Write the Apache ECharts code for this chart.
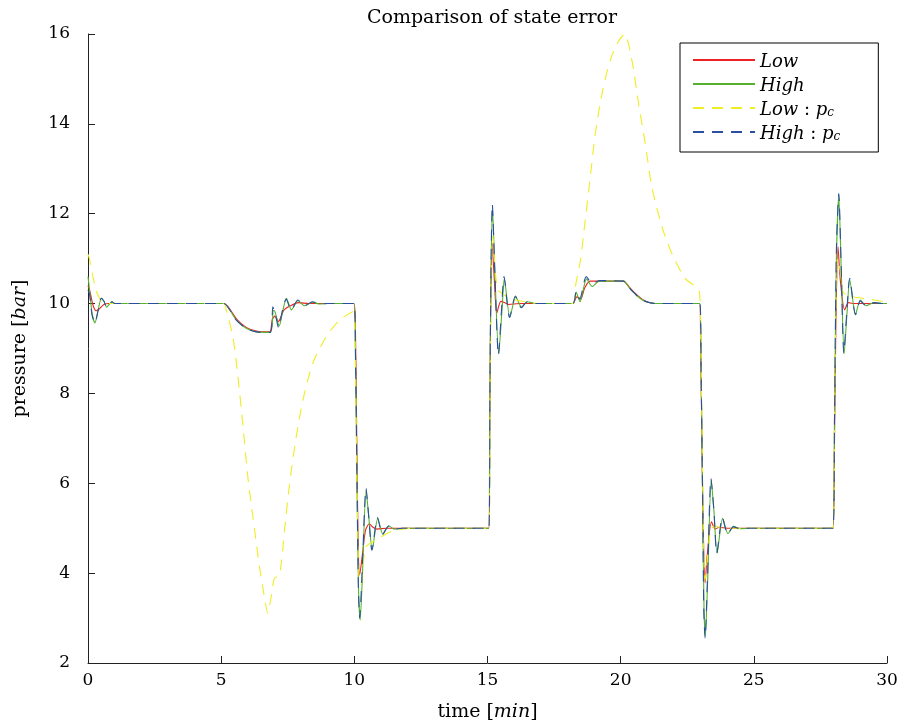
<!DOCTYPE html>
<html>
<head>
<meta charset="utf-8">
<script src="https://cdn.jsdelivr.net/npm/echarts@6/dist/echarts.min.js"></script>
<style>html,body{margin:0;padding:0;background:#fff}#c{width:902px;height:727px}</style>
</head>
<body>
<div id="c"></div>
<script>
const seriesNames = ['Low', 'High', 'Low : pc', 'High : pc'];
const xTicks = [0, 5, 10, 15, 20, 25, 30];
const yTicks = [2, 4, 6, 8, 10, 12, 14, 16];

const lowData = [
[0,10.4],[0.08,10.25],[0.18,9.98],[0.3,9.84],[0.42,9.88],[0.6,9.98],[0.8,10.0],
[5.1,10.0],[5.3,9.9],[5.57,9.66],[5.94,9.47],[6.32,9.39],[6.82,9.37],[6.92,9.65],[7.02,9.72],[7.15,9.6],[7.35,9.85],[7.6,9.95],[7.9,10.02],[8.3,10.0],
[9.98,10.0],[10.04,9.5],[10.1,6.5],[10.15,4.5],[10.2,3.96],[10.3,4.4],[10.42,4.95],[10.56,5.1],[10.7,5.02],[10.85,4.98],[11.2,5.0],
[15.05,5.0],[15.08,7],[15.12,10],[15.17,11.35],[15.25,10.6],[15.35,9.79],[15.5,10.05],[15.65,10.02],[15.8,9.98],[16.2,10.0],
[18.2,10.0],[18.35,10.15],[18.5,10.1],[18.65,10.35],[18.85,10.5],[20.1,10.5],[20.35,10.35],[20.6,10.2],[20.85,10.08],[21.1,10.02],[21.4,10.0],
[22.97,10.0],[23.0,9.2],[23.05,7],[23.1,5],[23.17,3.78],[23.25,4.4],[23.41,5.14],[23.55,4.98],[23.7,5.02],[24.0,5.0],
[27.97,5.0],[28.02,6.5],[28.08,9.5],[28.16,11.27],[28.25,10.5],[28.41,9.86],[28.55,10.02],[28.75,10.0],[30,10.0]
];

const highData = [
[0,10.6],[0.06,10.3],[0.15,9.8],[0.26,9.57],[0.38,9.85],[0.5,10.12],[0.6,10.05],[0.7,9.92],[0.8,9.98],[0.9,10.04],[1.0,10.0],[1.3,10.0],
[5.1,10],[5.3,9.88],[5.57,9.63],[5.94,9.45],[6.32,9.37],[6.85,9.36],[6.96,9.85],[7.02,9.82],[7.18,9.5],[7.3,9.8],[7.45,10.12],[7.64,9.86],[7.88,10.07],[8.13,9.95],[8.43,10.03],[8.7,9.99],[9,10],
[9.98,10],[10.04,9],[10.1,6],[10.16,3.6],[10.22,2.96],[10.3,3.9],[10.44,5.85],[10.55,5.2],[10.67,4.52],[10.88,5.22],[11.07,4.87],[11.3,5.05],[11.5,4.98],[11.8,5.0],
[15.05,5],[15.09,8],[15.14,11],[15.19,12.1],[15.27,10.8],[15.42,8.88],[15.55,9.9],[15.63,10.55],[15.84,9.7],[16.06,10.15],[16.28,9.92],[16.5,10.04],[16.8,10.0],
[18.2,10],[18.33,10.25],[18.47,10.04],[18.72,10.55],[18.93,10.38],[19.2,10.5],[20.1,10.5],[20.35,10.33],[20.6,10.18],[20.85,10.07],[21.1,10.02],[21.4,10],
[22.97,10],[23.02,8.5],[23.08,5.5],[23.13,3.2],[23.18,2.6],[23.27,3.9],[23.4,6.08],[23.5,5.4],[23.62,4.45],[23.83,5.22],[24.03,4.88],[24.24,5.04],[24.5,4.99],[24.8,5],
[27.97,5],[28.03,7.5],[28.1,11],[28.19,12.4],[28.28,10.8],[28.39,8.88],[28.5,9.8],[28.6,10.53],[28.82,9.76],[29.0,10.08],[29.22,9.95],[29.5,10.02],[29.8,10],[30,10]
];

const lowPcData = [
[0,11.1],[0.05,11.0],[0.15,10.7],[0.3,10.3],[0.45,10.1],[0.6,10.02],[0.9,10.0],
[5.1,10],[5.19,9.86],[5.44,9.26],[5.63,8.37],[5.82,7.26],[6.0,6.15],[6.19,5.26],[6.44,4.14],[6.6,3.55],[6.75,3.11],[6.88,3.48],[7.0,3.89],[7.19,3.96],[7.38,4.96],[7.57,6.0],[7.82,7.04],[8.07,7.85],[8.44,8.67],[8.94,9.26],[9.44,9.63],[9.98,9.83],
[10.03,9],[10.1,6],[10.17,4.0],[10.25,3.75],[10.35,4.3],[10.44,4.59],[10.81,4.74],[11.37,4.92],[11.8,4.98],[12.3,5.0],
[15.05,5],[15.1,8.5],[15.15,11.0],[15.2,11.5],[15.28,10.8],[15.38,10.3],[15.5,10.25],[15.8,10.12],[16.3,10.05],[17,10.0],
[18.2,10.0],[18.3,10.38],[18.49,10.97],[18.67,11.86],[18.86,12.82],[19.05,13.79],[19.3,14.68],[19.61,15.42],[19.93,15.85],[20.15,16.0],[20.42,15.42],[20.67,14.46],[20.92,13.57],[21.17,12.6],[21.55,11.71],[21.92,11.12],[22.42,10.56],[22.95,10.28],
[23.0,9.5],[23.06,7],[23.12,4.5],[23.17,3.85],[23.25,4.3],[23.38,4.95],[23.55,5.05],[23.8,5.0],
[27.97,5],[28.03,7.5],[28.1,10.5],[28.15,11.0],[28.25,10.7],[28.35,10.25],[28.73,10.15],[29.53,10.08],[30,10.03]
];

const highPcData = [
[0,10.3],[0.06,10.2],[0.15,9.75],[0.26,9.57],[0.38,9.85],[0.5,10.12],[0.6,10.05],[0.7,9.92],[0.8,9.98],[0.9,10.04],[1.0,10.0],[1.3,10.0],
[5.1,10],[5.3,9.88],[5.57,9.63],[5.94,9.45],[6.32,9.37],[6.84,9.36],[6.94,9.93],[7.02,9.8],[7.16,9.46],[7.3,9.85],[7.44,10.1],[7.63,9.86],[7.88,10.08],[8.13,9.95],[8.43,10.04],[8.7,9.99],[9,10],
[9.98,10],[10.04,9],[10.1,6],[10.15,3.7],[10.2,3.0],[10.29,4.0],[10.44,5.89],[10.55,5.2],[10.66,4.51],[10.87,5.24],[11.06,4.86],[11.29,5.05],[11.5,4.98],[11.8,5.0],
[15.05,5],[15.09,8],[15.14,11.2],[15.18,12.22],[15.27,10.8],[15.41,8.85],[15.53,9.9],[15.62,10.6],[15.83,9.69],[16.05,10.17],[16.27,9.91],[16.49,10.04],[16.8,10.0],
[18.2,10],[18.33,10.27],[18.46,10.1],[18.71,10.6],[18.93,10.45],[19.2,10.51],[20.1,10.5],[20.35,10.33],[20.6,10.18],[20.85,10.07],[21.1,10.02],[21.4,10],
[22.97,10],[23.02,8.5],[23.08,5.5],[23.12,3.2],[23.17,2.55],[23.26,3.9],[23.39,6.11],[23.5,5.4],[23.61,4.44],[23.82,5.24],[24.02,4.87],[24.23,5.03],[24.5,4.99],[24.8,5],
[27.97,5],[28.03,7.5],[28.1,11.2],[28.19,12.45],[28.28,10.8],[28.38,8.9],[28.49,9.8],[28.6,10.56],[28.82,9.75],[29.0,10.06],[29.22,9.95],[29.53,10.02],[29.8,10],[30,10]
];

const FONT = 'DejaVu Serif';
const chart = echarts.init(document.getElementById('c'), null, {renderer: 'canvas'});

const legendRich = {
  it: {fontFamily: FONT, fontStyle: 'italic', fontSize: 18, color: '#000', lineHeight: 22, verticalAlign: 'bottom'},
  n: {fontFamily: FONT, fontSize: 18, color: '#000', lineHeight: 22, verticalAlign: 'bottom'},
  sub: {fontFamily: FONT, fontStyle: 'italic', fontSize: 12, color: '#000', lineHeight: 22, verticalAlign: 'bottom'}
};

function mkSeries(name, data, color, dashed) {
  return {
    name: name, type: 'line', data: data, showSymbol: false, symbol: 'none',
    smooth: 0.25, animation: false, clip: true,
    lineStyle: {color: color, width: 1.1, type: dashed ? [11, 8] : 'solid'},
    itemStyle: {color: color}
  };
}

chart.setOption({
  animation: false,
  backgroundColor: '#fff',
  title: {
    text: 'Comparison of state error', left: 487, top: 4, textAlign: 'center',
    textStyle: {fontFamily: FONT, fontWeight: 'normal', fontSize: 19, color: '#000'}
  },
  grid: {left: 88, right: 15, top: 34, bottom: 64, containLabel: false},
  legend: {
    left: 680, top: 43, orient: 'vertical',
    borderColor: '#000', borderWidth: 1, padding: [10, 38, 9, 12],
    itemWidth: 62, itemHeight: 14, itemGap: 6,
    itemStyle: {opacity: 0},
    data: seriesNames,
    formatter: function (name) {
      if (name === 'Low') return '{it|Low}';
      if (name === 'High') return '{it|High}';
      if (name === 'Low : pc') return '{it|Low}{n| : }{it|p}{sub|c}';
      return '{it|High}{n| : }{it|p}{sub|c}';
    },
    textStyle: {rich: legendRich, fontFamily: FONT, fontSize: 18}
  },
  xAxis: {
    type: 'value', min: xTicks[0], max: xTicks[xTicks.length - 1], interval: 5,
    name: 'time [{i|min}]', nameLocation: 'middle', nameGap: 40,
    nameTextStyle: {fontFamily: FONT, fontSize: 19, color: '#000', rich: {i: {fontFamily: FONT, fontStyle: 'italic', fontSize: 19, color: '#000'}}},
    axisLine: {show: true, lineStyle: {color: '#222', width: 1}},
    axisTick: {show: true, inside: true, length: 7, lineStyle: {color: '#222'}},
    axisLabel: {fontFamily: FONT, fontSize: 17, color: '#000', margin: 9},
    splitLine: {show: false}
  },
  yAxis: {
    type: 'value', min: yTicks[0], max: yTicks[yTicks.length - 1], interval: 2,
    name: 'pressure [{i|bar}]', nameLocation: 'middle', nameGap: 58, nameRotate: 90,
    nameTextStyle: {fontFamily: FONT, fontSize: 19, color: '#000', rich: {i: {fontFamily: FONT, fontStyle: 'italic', fontSize: 19, color: '#000'}}},
    axisLine: {show: true, lineStyle: {color: '#222', width: 1}},
    axisTick: {show: true, inside: true, length: 7, lineStyle: {color: '#222'}},
    axisLabel: {fontFamily: FONT, fontSize: 17, color: '#000', margin: 18},
    splitLine: {show: false}
  },
  series: [
    mkSeries(seriesNames[0], lowData, '#ee2222', false),
    mkSeries(seriesNames[1], highData, '#55b030', false),
    mkSeries(seriesNames[2], lowPcData, '#eeee22', true),
    mkSeries(seriesNames[3], highPcData, '#2a4f9e', true)
  ]
});
</script>
</body>
</html>
